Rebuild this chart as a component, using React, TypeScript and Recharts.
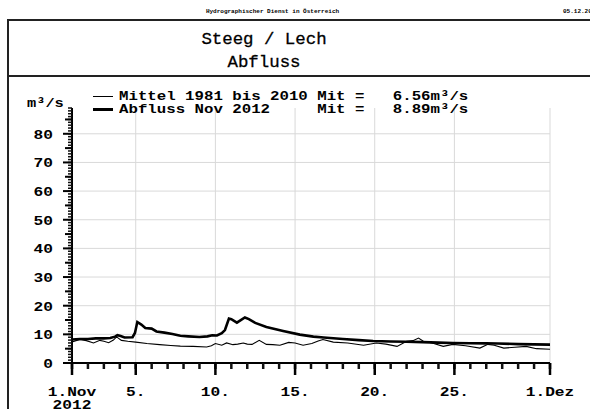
import { LineChart, Line, XAxis, YAxis, ReferenceLine } from "recharts"

// Tagesmittel Abfluss Nov 2012 (Tag als Bruchteil, 1 = 1.Nov 0:00, 31 = 1.Dez)
const flowDays = [1, 1.5, 2, 2.5, 3, 3.4, 3.7, 3.85, 4.05, 4.3, 4.8, 4.95, 5.1, 5.35, 5.6, 6.0, 6.3, 6.8, 7.3, 7.8, 8.3, 9.0, 9.5, 9.8, 10.1, 10.4, 10.6, 10.85, 11.0, 11.35, 11.85, 12.1, 12.5, 13.2, 14.25, 15.3, 16.15, 16.8, 18, 19, 19.9, 21, 22, 23, 24, 24.9, 26, 27, 27.7, 29, 30, 31]
const flowValues = [8.2, 8.4, 8.4, 8.6, 8.6, 8.7, 9.2, 9.7, 9.4, 8.9, 9.0, 10.5, 14.3, 13.4, 12.2, 12.0, 11.0, 10.6, 10.1, 9.5, 9.3, 9.1, 9.3, 9.7, 9.6, 10.4, 11.5, 15.5, 15.3, 14.1, 15.9, 15.3, 14.0, 12.6, 11.2, 9.9, 9.2, 8.9, 8.4, 8.0, 7.7, 7.5, 7.4, 7.3, 7.1, 7.0, 6.9, 6.85, 6.8, 6.6, 6.5, 6.4]

// Mittel 1981 bis 2010
const meanDays = [1, 1.3, 1.5, 1.9, 2.35, 2.75, 3.0, 3.3, 3.6, 3.8, 4.1, 4.5, 5.0, 5.7, 6.5, 7.2, 7.8, 8.6, 9.45, 9.75, 10.0, 10.4, 10.7, 11.1, 11.4, 11.75, 12.0, 12.3, 12.75, 13.2, 13.6, 14.05, 14.6, 15.0, 15.5, 16.05, 16.45, 16.75, 17.4, 18.3, 19.3, 20.1, 20.7, 21.4, 22.0, 22.4, 22.75, 23.05, 23.6, 24.3, 24.9, 25.7, 26.6, 27.1, 27.5, 28.1, 28.8, 29.5, 30.15, 31]
const meanValues = [7.3, 7.9, 8.2, 7.8, 7.0, 7.9, 7.6, 7.1, 8.0, 9.1, 7.9, 7.6, 7.3, 6.8, 6.4, 6.1, 5.9, 5.8, 5.6, 6.0, 6.8, 6.2, 7.0, 6.4, 6.6, 7.0, 6.6, 6.5, 7.9, 6.5, 6.4, 6.2, 7.2, 7.0, 6.2, 6.8, 7.7, 8.2, 7.3, 7.0, 6.2, 7.0, 6.6, 5.8, 7.6, 7.8, 8.7, 7.6, 7.0, 5.8, 6.5, 6.0, 5.2, 6.5, 6.2, 5.2, 5.5, 5.8, 5.0, 4.8]

const xLabels: Record<number, string> = { 1: "1.Nov", 5: "5.", 10: "10.", 15: "15.", 20: "20.", 25: "25.", 31: "1.Dez" }
const xGrid = [5, 10, 15, 20, 25, 31]
const yLabels = [0, 10, 20, 30, 40, 50, 60, 70, 80]
const yMax = 89

const flowData = flowDays.map((day, i) => ({ day, value: flowValues[i] }))
const meanData = meanDays.map((day, i) => ({ day, value: meanValues[i] }))

// Teilstriche: jeder Tag auf der Zeitachse, jede Einheit auf der Abflussachse
const dayMarks = Array.from({ length: 31 }, (_, i) => i + 1)
const valueMarks = Array.from({ length: yMax + 1 }, (_, i) => i)

const MONO = "'Liberation Mono', 'DejaVu Sans Mono', monospace"
const X_TICK = 6
const Y_TICK = 4

// Strich für jeden Tag, an den beschrifteten Tagen länger und mit Text
function DayTick(props: any) {
  const { x, y, payload } = props
  const label = xLabels[payload.value]
  const axisY = y - X_TICK - 2
  return (
    <g>
      {label && <line x1={x} x2={x} y1={axisY} y2={axisY + 12} stroke="#000" strokeWidth={2.5} />}
      {label && (
        <text
          transform={`translate(${x},${axisY + 33}) scale(1.2,1)`}
          textAnchor="middle"
          fontFamily={MONO}
          fontWeight="bold"
          fontSize={13.5}
          fill="#000"
        >
          {label}
        </text>
      )}
      {payload.value === 1 && (
        <text
          transform={`translate(${x},${axisY + 46}) scale(1.2,1)`}
          textAnchor="middle"
          fontFamily={MONO}
          fontWeight="bold"
          fontSize={13.5}
          fill="#000"
        >
          2012
        </text>
      )}
    </g>
  )
}

function ValueTick(props: any) {
  const { x, y, payload } = props
  const v = payload.value
  const axisX = x + Y_TICK + 2
  if (v % 5 !== 0) return null
  return (
    <g>
      <line x1={axisX - (v % 10 === 0 ? 9 : 7)} x2={axisX} y1={y} y2={y} stroke="#000" strokeWidth={2} />
      {yLabels.includes(v) && (
        <text
          transform={`translate(${axisX - 19},${y + 5}) scale(1.2,1)`}
          textAnchor="end"
          fontFamily={MONO}
          fontWeight="bold"
          fontSize={13.5}
          fill="#000"
        >
          {v}
        </text>
      )}
    </g>
  )
}

const abs = (left: number, top: number): React.CSSProperties => ({ position: "absolute", left, top })

export default function App() {
  return (
    <div style={{ position: "absolute", left: 0, top: 0, width: 590, height: 409, background: "#fff", overflow: "hidden" }}>
      <LineChart width={590} height={409} margin={{ top: 108, right: 40, bottom: 0, left: 12 }}>
        <XAxis
          dataKey="day"
          type="number"
          domain={[1, 31]}
          ticks={dayMarks}
          interval={0}
          tickSize={X_TICK}
          tickLine={{ stroke: "#111", strokeWidth: 2.5 }}
          height={46}
          axisLine={{ stroke: "#000", strokeWidth: 2 }}
          tick={<DayTick />}
        />
        <YAxis
          type="number"
          domain={[0, yMax]}
          ticks={valueMarks}
          interval={0}
          tickSize={Y_TICK}
          tickLine={{ stroke: "#111", strokeWidth: 1.5 }}
          width={60}
          axisLine={{ stroke: "#000", strokeWidth: 2 }}
          tick={<ValueTick />}
        />
        {yLabels.slice(1).map((v) => (
          <ReferenceLine key={`h${v}`} y={v} stroke="#d9d9d9" strokeWidth={1} />
        ))}
        {xGrid.map((d) => (
          <ReferenceLine key={`v${d}`} x={d} stroke="#d9d9d9" strokeWidth={1} />
        ))}
        <Line data={meanData} dataKey="value" type="linear" stroke="#000" strokeWidth={1.1} dot={false} isAnimationActive={false} />
        <Line data={flowData} dataKey="value" type="linear" stroke="#000" strokeWidth={2.6} dot={false} isAnimationActive={false} />
      </LineChart>

      {/* Kopfzeile */}
      <div style={{ ...abs(0, 7), width: 545, textAlign: "center", fontFamily: MONO, fontSize: 6, fontWeight: "bold", lineHeight: "9px" }}>
        Hydrographischer Dienst in Österreich
      </div>
      <div style={{ ...abs(563, 7), fontFamily: MONO, fontSize: 6, fontWeight: "bold", lineHeight: "9px", whiteSpace: "nowrap" }}>05.12.2012 15:0</div>

      {/* Rahmen */}
      <div style={{ ...abs(7, 19), width: 600, height: 1.5, background: "#222" }} />
      <div style={{ ...abs(7, 75), width: 600, height: 1.5, background: "#222" }} />
      <div style={{ ...abs(7, 19), width: 1.5, height: 400, background: "#222" }} />

      {/* Titel */}
      <div style={{ ...abs(0, 28), width: 528, textAlign: "center", fontFamily: MONO, fontSize: 17.4, lineHeight: "23px", color: "#000", WebkitTextStroke: "0.3px #000" }}>
        Steeg / Lech
        <br />
        Abfluss
      </div>

      {/* Einheit */}
      <div style={{ ...abs(27, 96), fontFamily: MONO, fontSize: 13, fontWeight: "bold", transform: "scaleX(1.18)", transformOrigin: "left", lineHeight: "16px" }}>
        m³/s
      </div>

      {/* Legende */}
      <div style={{ ...abs(93, 96), width: 20, height: 1.2, background: "#000" }} />
      <div style={{ ...abs(93, 108), width: 20, height: 2.6, background: "#000" }} />
      <div style={{ ...abs(119, 91), fontFamily: MONO, fontSize: 13, fontWeight: "bold", whiteSpace: "pre", lineHeight: "12.5px", transform: "scaleX(1.21)", transformOrigin: "left" }}>
        {"Mittel 1981 bis 2010 Mit =   6.56m³/s\nAbfluss Nov 2012     Mit =   8.89m³/s"}
      </div>
    </div>
  )
}
